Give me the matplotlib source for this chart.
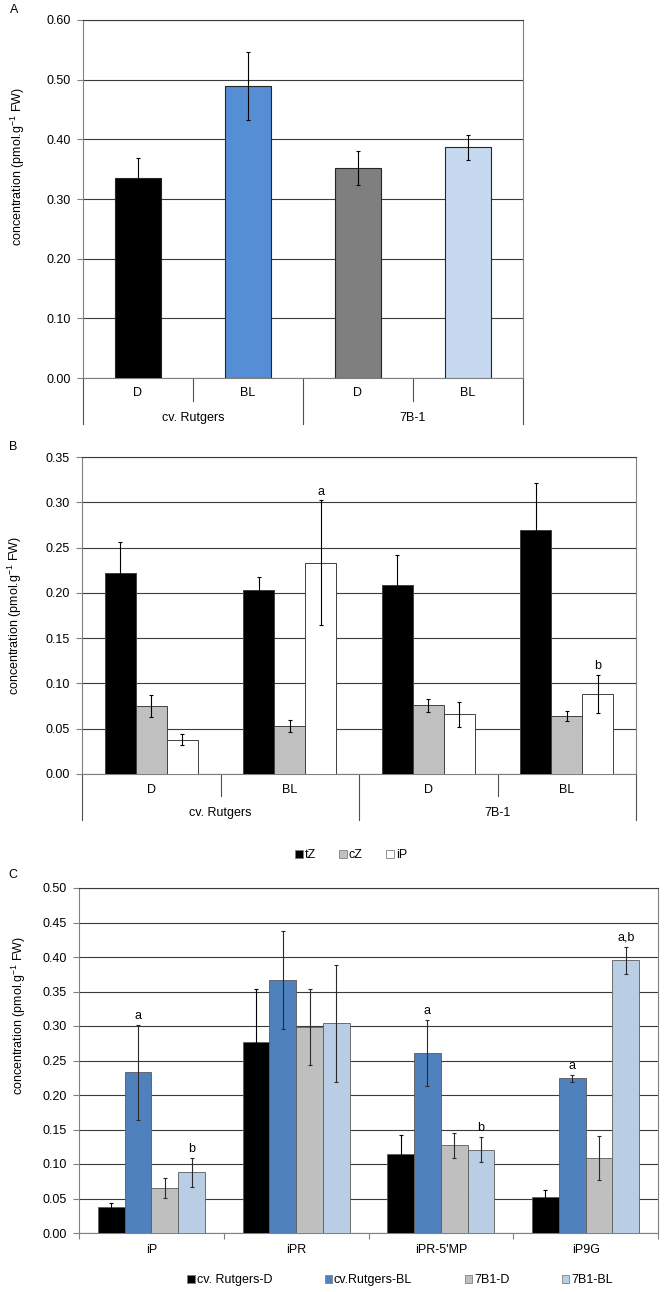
import matplotlib
matplotlib.use('Agg')
import matplotlib.pyplot as plt
from matplotlib.patches import Patch
from matplotlib.ticker import FormatStrFormatter
import numpy as np

plt.rcParams['font.family'] = ['Liberation Sans', 'DejaVu Sans']
plt.rcParams['font.size'] = 9

# ---- data ----
# panel A
a_labels = ['D', 'BL', 'D', 'BL']
a_groups = ['cv. Rutgers', '7B-1']
a_vals = [0.336, 0.490, 0.352, 0.387]
a_err = [0.032, 0.057, 0.028, 0.021]
a_colors = ['#000000', '#558ed5', '#7f7f7f', '#c6d9f1']

# panel B
b_labels = ['D', 'BL', 'D', 'BL']
b_groups = ['cv. Rutgers', '7B-1']
b_series = ['tZ', 'cZ', 'iP']
b_tz = [0.222, 0.203, 0.209, 0.269]
b_tz_err = [0.034, 0.014, 0.033, 0.052]
b_cz = [0.075, 0.053, 0.076, 0.064]
b_cz_err = [0.012, 0.007, 0.007, 0.006]
b_ip = [0.038, 0.233, 0.066, 0.088]
b_ip_err = [0.006, 0.069, 0.014, 0.021]
b_ip_marks = ['', 'a', '', 'b']
b_colors = ['#000000', '#c0c0c0', '#ffffff']

# panel C
c_cats = ['iP', 'iPR', "iPR-5'MP", 'iP9G']
c_series = ['cv. Rutgers-D', 'cv.Rutgers-BL', '7B1-D', '7B1-BL']
c_rd = [0.037, 0.277, 0.114, 0.052]
c_rd_err = [0.006, 0.076, 0.028, 0.011]
c_rbl = [0.233, 0.367, 0.261, 0.224]
c_rbl_err = [0.069, 0.071, 0.048, 0.005]
c_bd = [0.065, 0.299, 0.127, 0.109]
c_bd_err = [0.014, 0.055, 0.018, 0.032]
c_bbl = [0.088, 0.304, 0.121, 0.395]
c_bbl_err = [0.021, 0.085, 0.018, 0.020]
c_rbl_marks = ['a', '', 'a', 'a']
c_bbl_marks = ['b', '', 'b', 'a,b']
c_colors = ['#000000', '#4f81bd', '#bfbfbf', '#b9cde5']

YLABEL = r'concentration (pmol.g$^{\mathregular{-1}}$ FW)'

W, H = 664, 1292
fig = plt.figure(figsize=(W / 100, H / 100), dpi=100)


def axes_px(left, top, right, bottom):
    return fig.add_axes([left / W, 1 - bottom / H, (right - left) / W, (bottom - top) / H])


def style_y(ax, ymax, step):
    ax.set_ylim(0, ymax)
    ax.set_yticks(np.arange(0, ymax + step / 2, step))
    ax.yaxis.set_major_formatter(FormatStrFormatter('%.2f'))
    ax.grid(axis='y', color='#3a3a3a', lw=0.8)
    ax.set_axisbelow(True)
    ax.tick_params(axis='y', direction='out', length=4, width=0.8,
                   color='#808080', pad=5, labelsize=9)
    for s in ax.spines.values():
        s.set_color('#808080')
        s.set_linewidth(0.8)
    ax.spines['top'].set_color('#3a3a3a')


def two_level_axis(ax, labels, groups, h_px, inner_px, outer_px, lab_px, grp_px):
    ax.set_xticks([])
    trans = ax.get_xaxis_transform()
    n = len(labels)
    per = n // len(groups)
    for i, lab in enumerate(labels):
        ax.text(i, -lab_px / h_px, lab, transform=trans, ha='center', va='center', fontsize=9)
    for g, name in enumerate(groups):
        ax.text(g * per + (per - 1) / 2, -grp_px / h_px, name, transform=trans,
                ha='center', va='center', fontsize=9)
    for k in range(n + 1):
        depth = outer_px if k % per == 0 else inner_px
        ax.plot([k - 0.5, k - 0.5], [0, -depth / h_px], transform=trans,
                clip_on=False, color='#505050', lw=0.8)


def marks(ax, xs, vals, errs, texts):
    for x, v, e, t in zip(xs, vals, errs, texts):
        if t:
            ax.annotate(t, (x, v + e), xytext=(0, 2), textcoords='offset points',
                        ha='center', va='bottom', fontsize=9)


ebar = dict(ecolor='#000000', elinewidth=0.8, capsize=1.6, capthick=0.8)

# ---- panel A ----
axA = axes_px(83, 20, 523, 378)
xa = np.arange(len(a_vals))
axA.bar(xa, a_vals, 0.41, color=a_colors, edgecolor='#262626', lw=0.8,
        yerr=a_err, error_kw=ebar, zorder=3)
axA.set_xlim(-0.5, len(a_vals) - 0.5)
style_y(axA, 0.60, 0.10)
two_level_axis(axA, a_labels, a_groups, 358, 23, 46, 15, 40)
axA.set_ylabel(YLABEL, fontsize=9)
axA.yaxis.set_label_coords(-0.128, 0.59)
fig.text(14 / W, 1 - 10 / H, 'A', fontsize=9, ha='center', va='center')

# ---- panel B ----
axB = axes_px(82, 457, 636, 774)
xb = np.arange(len(b_tz))
bw = 0.224
for j, (vals, errs) in enumerate([(b_tz, b_tz_err), (b_cz, b_cz_err), (b_ip, b_ip_err)]):
    axB.bar(xb + (j - 1) * bw, vals, bw, color=b_colors[j], edgecolor='#404040', lw=0.7,
            yerr=errs, error_kw=ebar, zorder=3, label=b_series[j])
marks(axB, xb + bw, b_ip, b_ip_err, b_ip_marks)
axB.set_xlim(-0.5, len(b_tz) - 0.5)
style_y(axB, 0.35, 0.05)
two_level_axis(axB, b_labels, b_groups, 317, 22, 46, 16, 39)
axB.set_ylabel(YLABEL, fontsize=9)
axB.yaxis.set_label_coords(-0.105, 0.5)
fig.text(13 / W, 1 - 447 / H, 'B', fontsize=9, ha='center', va='center')

hb = [Patch(facecolor=c, edgecolor='#808080', lw=0.6) for c in b_colors]
fig.legend(hb, b_series, loc='center', bbox_to_anchor=(351 / W, 1 - 855 / H),
           ncol=3, frameon=False, handlelength=0.6, handleheight=0.6,
           handletextpad=0.15, columnspacing=1.9, fontsize=9)

# ---- panel C ----
axC = axes_px(79, 888, 658, 1233)
xc = np.arange(len(c_cats))
cw = 0.185
c_data = [(c_rd, c_rd_err), (c_rbl, c_rbl_err), (c_bd, c_bd_err), (c_bbl, c_bbl_err)]
c_ecol = ['#000000', '#2a2a2a', '#2a2a2a', '#2a2a2a']
for j, (vals, errs) in enumerate(c_data):
    axC.bar(xc + (j - 1.5) * cw, vals, cw, color=c_colors[j], edgecolor='#5a5a5a', lw=0.6,
            yerr=errs, error_kw=dict(ebar, ecolor=c_ecol[j]), zorder=3)
marks(axC, xc - 0.5 * cw, c_rbl, c_rbl_err, c_rbl_marks)
marks(axC, xc + 1.5 * cw, c_bbl, c_bbl_err, c_bbl_marks)
axC.set_xlim(-0.5, len(c_cats) - 0.5)
style_y(axC, 0.50, 0.05)
axC.set_xticks(xc)
axC.set_xticklabels(c_cats, fontsize=9)
axC.set_xticks(np.arange(-0.5, len(c_cats)), minor=True)
axC.tick_params(axis='x', which='major', length=0, pad=8)
axC.tick_params(axis='x', which='minor', direction='out', length=4, width=0.8, color='#808080')
axC.set_ylabel(YLABEL, fontsize=9)
axC.yaxis.set_label_coords(-0.088, 0.63)
fig.text(13 / W, 1 - 875 / H, 'C', fontsize=9, ha='center', va='center')

hc = [Patch(facecolor=c, edgecolor='#808080', lw=0.6) for c in c_colors]
fig.legend(hc, c_series, loc='center', bbox_to_anchor=(400 / W, 1 - 1280 / H),
           ncol=4, frameon=False, handlelength=0.6, handleheight=0.6,
           handletextpad=0.15, columnspacing=4.2, fontsize=9)

fig.savefig('out.png', dpi=100)
